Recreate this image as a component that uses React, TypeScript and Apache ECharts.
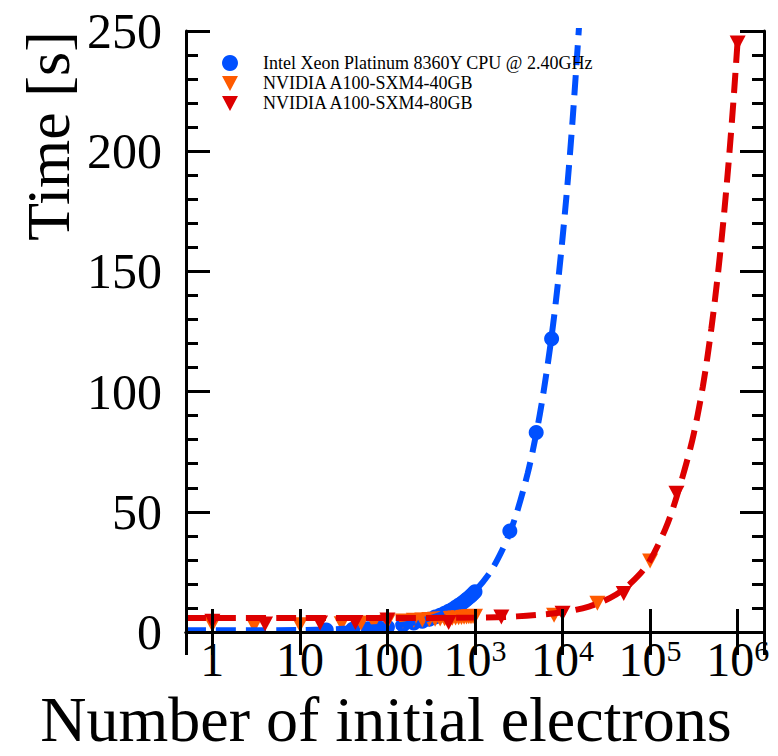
import React, { useEffect, useRef } from "react";
import * as echarts from "echarts";

// CPU: Intel Xeon Platinum 8360Y
const cpuN = [20, 40, 60, 80, 100, 150, 200, 250, 300, 350, 400, 450, 500, 550, 600, 650, 700, 750, 800, 850, 900, 950, 1000, 2500, 5000, 7500];
const cpuT = [0.8, 1.1, 1.4, 1.7, 2.1, 2.9, 3.7, 4.5, 5.3, 6.2, 7.0, 7.8, 8.6, 9.4, 10.3, 11.1, 11.9, 12.7, 13.5, 14.3, 15.1, 15.9, 16.7, 42, 83, 122];

// GPU: NVIDIA A100-SXM4-40GB
const gpu40N = [1, 3, 10, 30, 50, 70, 100, 150, 200, 250, 300, 350, 400, 450, 500, 550, 600, 650, 700, 750, 800, 850, 900, 950, 1000, 8000, 25000, 100000];
const gpu40T = [3.0, 2.6, 3.0, 3.4, 3.7, 4.0, 4.3, 4.6, 4.9, 5.0, 5.2, 5.3, 5.4, 5.5, 5.6, 5.7, 5.8, 5.9, 6.0, 6.1, 6.2, 6.3, 6.3, 6.4, 6.5, 7.0, 12.0, 29.5];

// GPU: NVIDIA A100-SXM4-80GB
const gpu80N = [1, 4, 17, 43, 100, 500, 2000, 10000, 50000, 200000, 1000000];
const gpu80T = [4.5, 3.3, 3.7, 4.0, 5.0, 3.9, 6.2, 7.8, 16.0, 57.7, 245];

// Fitted (dashed) curves
const cpuFitN = [0.5, 10, 100, 200, 400, 700, 1000, 1500, 2000, 2500, 3000, 4000, 5000, 6000, 7500, 9000, 11000, 13000, 15500];
const cpuFitT = [0.7, 0.8, 2.3, 3.9, 7.2, 12.1, 17, 25, 33.3, 41.4, 49.6, 66, 82.4, 98.7, 123, 147.5, 180, 212.6, 253];

const gpuFitN = [0.5, 10, 100, 1000, 3000, 10000, 20000, 35000, 50000, 75000, 100000, 150000, 200000, 300000, 400000, 500000, 600000, 700000, 800000, 900000, 1000000];
const gpuFitT = [5.8, 5.8, 5.8, 6.0, 6.5, 8.2, 10.6, 14.2, 17.8, 23.8, 29.8, 43, 56, 79, 102, 126, 150, 174, 198, 222, 246];

const yTicks = [0, 50, 100, 150, 200, 250];

const legendNames = [
  "Intel Xeon Platinum 8360Y CPU @ 2.40GHz",
  "NVIDIA A100-SXM4-40GB",
  "NVIDIA A100-SXM4-80GB",
];

const BLUE = "#0050ff";
const ORANGE = "#ff5a00";
const RED = "#dd0000";
const FONT = '"Liberation Serif", "DejaVu Serif", serif';

const pairs = (xs: number[], ys: number[]) => xs.map((x, i) => [x, ys[i]]);

export default function App() {
  const ref = useRef<HTMLDivElement>(null);

  useEffect(() => {
    if (!ref.current) return;
    const chart = echarts.init(ref.current, undefined, { renderer: "svg" });

    const axisLine = { show: true, lineStyle: { color: "#000", width: 3 } };
    const xAxisCommon = {
      type: "log" as const,
      logBase: 10,
      min: 0.5,
      max: 2e6,
      z: 10,
      axisLine,
      axisTick: { show: true, inside: true, length: 23, lineStyle: { color: "#000", width: 3 } },
      minorTick: { show: false },
      splitLine: { show: false },
      minorSplitLine: { show: false },
    };
    const yAxisCommon = {
      type: "value" as const,
      min: yTicks[0],
      max: yTicks[yTicks.length - 1],
      interval: yTicks[1] - yTicks[0],
      z: 10,
      axisLine,
      axisTick: { show: true, inside: true, length: 24, lineStyle: { color: "#000", width: 3 } },
      minorTick: { show: true, splitNumber: 5, length: 12, lineStyle: { color: "#000", width: 3 } },
      splitLine: { show: false },
      minorSplitLine: { show: false },
    };

    const legendY = [63, 83, 103];
    const legendX = 230;
    const tri = (cx: number, cy: number, color: string) => ({
      type: "polygon",
      shape: { points: [[cx - 8, cy - 7], [cx + 8, cy - 7], [cx, cy + 8]] },
      style: { fill: color },
      z: 20,
    });

    chart.setOption({
      animation: false,
      backgroundColor: "#fff",
      grid: { left: 186, right: 14, top: 31, bottom: 124 },
      xAxis: [
        {
          ...xAxisCommon,
          position: "bottom",
          axisLabel: {
            show: true,
            margin: 3,
            showMinLabel: false,
            showMaxLabel: false,
            color: "#000",
            fontFamily: FONT,
            fontSize: 48,
            formatter: (v: number) => {
              const e = Math.round(Math.log10(v));
              if (e === 0) return "{b|1}";
              if (e === 1) return "{b|10}";
              if (e === 2) return "{b|100}";
              return `{b|10}{s|${e}}`;
            },
            rich: {
              b: { fontSize: 48, fontFamily: FONT, color: "#000", lineHeight: 48 },
              s: { fontSize: 30, fontFamily: FONT, color: "#000", verticalAlign: "top", lineHeight: 48, padding: [0, 0, 14, 0] },
            },
          },
        },
        {
          ...xAxisCommon,
          position: "top",
          axisLabel: { show: false },
        },
      ],
      yAxis: [
        {
          ...yAxisCommon,
          position: "left",
          axisLabel: { show: true, margin: 24, color: "#000", fontFamily: FONT, fontSize: 50 },
        },
        {
          ...yAxisCommon,
          position: "right",
          axisLabel: { show: false },
        },
      ],
      series: [
        {
          name: legendNames[0],
          type: "scatter",
          data: pairs(cpuN, cpuT),
          symbol: "circle",
          symbolSize: 15,
          itemStyle: { color: BLUE, opacity: 1 },
          z: 2,
        },
        {
          name: legendNames[1],
          type: "scatter",
          data: pairs(gpu40N, gpu40T),
          symbol: "triangle",
          symbolRotate: 180,
          symbolSize: [16, 15],
          itemStyle: { color: ORANGE, opacity: 1 },
          z: 3,
        },
        {
          name: "cpu fit",
          type: "line",
          data: pairs(cpuFitN, cpuFitT),
          showSymbol: false,
          symbol: "none",
          smooth: 0.3,
          clip: true,
          lineStyle: { color: BLUE, width: 6, type: [20, 10], cap: "butt" },
          z: 4,
        },
        {
          name: legendNames[2],
          type: "scatter",
          data: pairs(gpu80N, gpu80T),
          symbol: "triangle",
          symbolRotate: 180,
          symbolSize: [16, 15],
          itemStyle: { color: RED, opacity: 1 },
          z: 5,
        },
        {
          name: "gpu fit",
          type: "line",
          data: pairs(gpuFitN, gpuFitT),
          showSymbol: false,
          symbol: "none",
          smooth: 0.3,
          clip: true,
          lineStyle: { color: RED, width: 6, type: [20, 10], cap: "butt" },
          z: 6,
        },
      ],
      graphic: [
        // mask for markers poking below the frame
        { type: "rect", shape: { x: 150, y: 634, width: 628, height: 10 }, style: { fill: "#fff" }, z: 8 },
        { type: "circle", shape: { cx: legendX, cy: legendY[0], r: 8 }, style: { fill: BLUE }, z: 20 },
        tri(legendX, legendY[1], ORANGE),
        tri(legendX, legendY[2], RED),
        ...legendNames.map((name, i) => ({
          type: "text",
          x: 263,
          y: legendY[i],
          z: 20,
          style: { text: name, fontFamily: FONT, fontSize: 18, fill: "#000", align: "left", verticalAlign: "middle" },
        })),
        {
          type: "text",
          x: 48,
          y: 136,
          rotation: Math.PI / 2,
          z: 20,
          style: { text: "Time [s]", fontFamily: FONT, fontSize: 62, fill: "#000", align: "center", verticalAlign: "middle" },
        },
        {
          type: "text",
          x: 386,
          y: 719,
          z: 20,
          style: { text: "Number of initial electrons", fontFamily: FONT, fontSize: 64, lineHeight: 60, fill: "#000", align: "center", verticalAlign: "middle" },
        },
      ],
    });

    return () => chart.dispose();
  }, []);

  return <div ref={ref} style={{ position: "fixed", left: 0, top: 0, width: 778, height: 756, background: "#fff" }} />;
}
